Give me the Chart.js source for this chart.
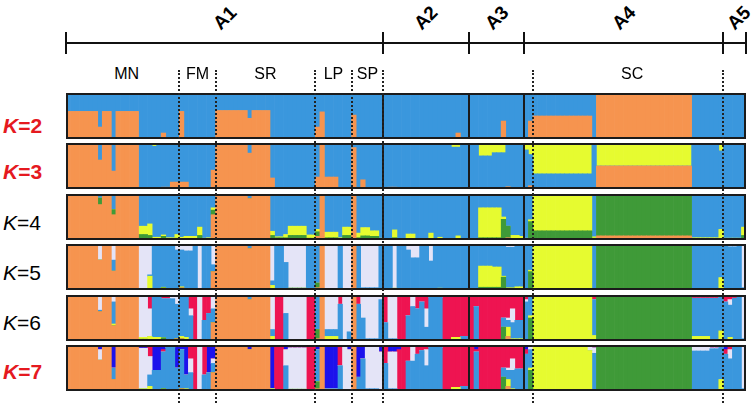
<!DOCTYPE html>
<html>
<head>
<meta charset="utf-8">
<script src="https://cdn.jsdelivr.net/npm/chart.js@4.4.1/dist/chart.umd.min.js"></script>
<style>
  body { margin: 0; background: #fff; font-family: "Liberation Sans", Arial, sans-serif; }
  #page { position: relative; width: 753px; height: 406px; overflow: hidden; background: #fff; }
  .panel { position: absolute; }
  .txt { position: absolute; white-space: nowrap; color: #000; }
  .vline { position: absolute; }
</style>
</head>
<body>
<div id="page"></div>
<script>
// cluster colours
const clusterColors = {
  orange: '#f6944f', blue: '#3a97dd', yellow: '#e6fb30', green: '#3f9a38',
  lavender: '#e4e4f7', red: '#ee1451', darkblue: '#1c12ec'
};

// regions (A1..A5) and populations, by number of individuals
const regionNames = ['A1', 'A2', 'A3', 'A4', 'A5'];
const regionSizes = [70, 19, 12, 44, 5];
const popNames = ['MN', 'FM', 'SR', 'LP', 'SP', 'SC'];
const popStart = [0, 25, 33, 55, 63, 103];
const popEnd = [25, 33, 55, 63, 70, 145];
const dottedAt = [25, 33, 55, 63, 70, 103, 145];

const kValues = [2, 3, 4, 5, 6, 7];
const kHighlight = [true, true, false, false, false, true];

// stacking order (bottom -> top) of the clusters for each K
const order2 = ['orange', 'blue'];
const order3 = ['orange', 'blue', 'yellow'];
const order4 = ['orange', 'green', 'yellow', 'blue'];
const order5 = ['orange', 'green', 'yellow', 'blue', 'lavender'];
const order6 = ['orange', 'green', 'yellow', 'blue', 'lavender', 'red'];
const order7 = ['orange', 'green', 'yellow', 'blue', 'lavender', 'red', 'darkblue'];

// membership runs: [number of individuals, % per cluster in the order above]
const k2Runs = [
  [7,60,40],[1,26,74],[2,60,40],[1,2,98],[5,60,40],[5,1,99],[1,13,87],[3,3,97],
  [1,60,40],[7,0,100],
  [7,62,38],[1,45,55],[4,62,38],[10,1,99],
  [1,26,74],[1,59,41],[6,0,100],
  [1,52,48],[6,0,100],
  [16,1,99],[1,13,87],[2,1,99],
  [7,0,100],[1,39,61],[1,2,98],[3,0,100],
  [1,0,100],[1,39,61],
  [13,50,50],[1,0,100],[21,100,0],[7,3,97],
  [5,0,100]
];
const k3Runs = [
  [7,95,2,3],[1,63,37,0],[2,95,5,0],[1,39,61,0],[5,97,3,0],[3,0,98,2],[1,0,93,7],[1,2,98,0],[1,4,91,5],[1,4,96,0],[2,15,85,0],
  [2,15,85,0],[5,0,100,0],[1,41,59,0],
  [7,98,2,0],[1,78,22,0],[4,98,2,0],[1,24,76,0],[2,0,100,0],[2,3,97,0],[5,1,99,0],
  [1,26,74,0],[1,96,4,0],[3,26,74,0],[3,0,100,0],
  [1,90,10,0],[1,0,100,0],[1,20,80,0],[4,1,99,0],
  [1,0,100,0],[2,4,96,0],[9,0,100,0],[1,0,96,4],[2,0,100,0],[2,2,89,9],[2,0,100,0],
  [2,0,100,0],[3,0,72,28],[3,3,76,21],[1,5,95,0],[1,2,98,0],[2,0,95,5],
  [1,0,85,15],[1,7,68,25],
  [13,0,33,67],[1,0,100,0],[21,50,0,50],[6,2,96,2],[1,2,81,17],
  [5,0,100,0]
];
const k4Runs = [
  [7,100,0,0,0],[1,77,14,0,9],[2,100,0,0,0],[1,55,11,0,34],[5,100,0,0,0],[2,0,12,18,70],[1,0,10,25,65],[2,0,3,3,94],[1,0,8,3,89],[2,0,3,2,95],[1,2,2,8,88],
  [1,0,3,3,94],[3,0,3,5,92],[1,0,10,18,72],[1,0,2,2,96],[1,0,3,2,95],[1,55,10,5,30],
  [7,100,0,0,0],[1,90,0,0,10],[4,100,0,0,0],[1,0,10,9,81],[2,0,5,2,93],[1,0,5,7,88],[4,0,10,20,70],[2,0,4,7,89],
  [1,8,10,5,77],[1,98,0,0,2],[3,0,5,12,83],[1,0,2,3,95],[2,0,10,18,72],
  [1,98,0,0,2],[1,0,5,10,85],[2,0,9,18,73],[2,0,8,12,80],[1,0,1,3,96],
  [2,0,1,2,97],[1,0,5,17,78],[2,0,1,1,98],[2,0,3,10,87],[3,0,1,1,98],[1,0,2,13,85],[1,0,0,1,99],[1,0,1,5,94],[3,0,0,1,99],[1,0,1,8,91],[2,0,2,1,97],
  [2,0,0,1,99],[5,0,5,65,30],[1,0,45,5,50],[1,5,25,0,70],[2,0,2,8,90],[1,0,1,7,92],
  [1,0,2,2,96],[1,2,38,4,56],
  [13,0,20,80,0],[1,2,2,3,93],[21,9,91,0,0],[6,1,2,2,95],[1,0,3,20,77],
  [4,0,1,3,96],[1,0,10,18,72]
];
const k5Runs = [
  [7,100,0,0,0,0],[1,65,0,0,0,35],[2,100,0,0,0,0],[1,41,0,0,24,35],[5,100,0,0,0,0],[2,0,3,0,0,97],[1,0,0,30,3,67],[2,0,1,1,93,5],[1,0,5,1,89,5],[2,0,1,1,93,5],[1,3,0,0,84,13],
  [1,5,0,2,80,13],[2,0,0,1,84,15],[1,0,0,0,100,0],[1,0,0,3,0,97],[2,0,0,0,100,0],[1,40,0,0,15,45],
  [7,100,0,0,0,0],[1,90,0,0,10,0],[4,100,0,0,0,0],[1,0,0,10,10,80],[2,0,1,1,98,0],[1,2,0,0,58,40],[4,2,2,0,0,96],[2,1,1,1,97,0],
  [1,5,10,0,85,0],[1,98,0,0,2,0],[3,0,0,2,1,97],[1,0,0,1,99,0],[2,0,0,1,2,97],
  [1,98,0,0,2,0],[1,0,1,1,98,0],[4,0,1,2,2,95],[1,0,0,1,99,0],
  [2,0,0,1,99,0],[1,0,1,3,0,96],[1,0,0,0,95,5],[1,0,0,0,100,0],[1,0,0,0,87,13],[2,0,0,0,70,30],[2,0,0,1,99,0],[1,0,0,0,63,37],[1,0,0,0,100,0],[1,0,0,4,96,0],[6,0,1,1,98,0],
  [2,0,0,1,99,0],[3,0,6,46,48,0],[2,0,6,44,50,0],[1,3,25,2,70,0],[2,3,1,1,88,7],[2,0,0,7,93,0],
  [1,0,0,0,95,5],[1,2,38,3,57,0],
  [13,0,0,100,0,0],[1,0,0,2,93,5],[21,0,100,0,0,0],[6,2,0,1,93,4],[1,0,0,27,70,3],
  [1,0,0,0,97,3],[2,0,0,0,94,6],[1,0,0,0,100,0],[1,0,0,0,5,95]
];
const k6Runs = [
  [7,100,0,0,0,0,0],[1,64,0,0,3,33,0],[2,100,0,0,0,0,0],[1,33,0,4,48,15,0],[5,100,0,0,0,0,0],[2,2,2,4,0,92,0],[1,0,0,10,0,60,30],[2,0,0,8,90,2,0],[1,0,7,0,85,0,8],[1,0,0,2,90,0,8],[1,0,0,0,92,8,0],[1,5,0,0,75,20,0],
  [1,5,0,5,90,0,0],[1,0,0,8,92,0,0],[1,0,0,0,55,15,30],[1,0,0,0,3,0,97],[1,0,0,0,0,97,3],[1,0,0,0,45,0,55],[1,0,0,0,60,0,40],[1,40,0,0,30,30,0],
  [7,100,0,0,0,0,0],[1,90,0,0,10,0,0],[4,100,0,0,0,0,0],[1,0,0,10,15,75,0],[2,0,0,0,1,2,97],[1,0,0,0,60,40,0],[4,0,0,3,0,95,2],[2,0,0,0,2,1,97],
  [1,5,20,0,75,0,0],[1,98,0,0,2,0,0],[3,0,0,10,15,75,0],[1,0,0,0,80,0,20],[1,0,0,0,3,95,2],[1,0,0,0,20,80,0],
  [1,98,0,0,2,0,0],[1,0,0,0,80,0,20],[1,0,0,0,50,50,0],[3,0,0,2,3,95,0],[1,0,0,0,90,10,0],
  [1,0,0,0,40,0,60],[2,0,0,2,3,90,5],[2,0,0,0,2,0,98],[1,0,0,0,55,0,45],[1,0,0,0,75,25,0],[1,0,0,0,70,0,30],[1,0,0,0,85,0,15],[1,0,0,0,30,40,30],[3,0,0,2,93,0,5],[2,0,0,0,0,0,100],[2,0,0,8,0,0,92],[2,0,0,0,10,0,90],
  [1,0,0,0,0,0,100],[1,0,0,0,75,0,25],[5,0,0,3,0,0,97],[1,0,30,0,20,0,50],[1,10,0,20,15,5,50],[1,0,0,5,35,30,30],[2,0,0,5,40,0,55],
  [1,0,0,0,85,5,10],[1,0,50,5,40,0,5],
  [13,0,0,100,0,0,0],[1,0,0,12,78,0,10],[21,0,100,0,0,0,0],[4,0,0,10,83,0,7],[2,0,0,3,90,0,7],[1,0,0,22,73,0,5],
  [1,0,0,0,85,0,15],[1,0,0,8,70,12,10],[1,0,0,0,93,0,7],[1,0,0,0,100,0,0],[1,0,0,0,5,95,0]
];
const k7Runs = [
  [7,100,0,0,0,0,0,0],[1,67,0,0,0,23,0,10],[2,100,0,0,0,0,0,0],[1,25,0,0,25,0,0,50],[5,100,0,0,0,0,0,0],[2,0,0,5,0,88,0,7],[1,0,0,10,25,40,25,0],[2,0,0,0,45,0,0,55],[1,0,5,0,80,0,5,10],[2,0,0,0,95,0,0,5],[1,0,0,0,50,0,0,50],
  [1,5,0,0,85,0,0,10],[1,0,0,5,30,0,0,65],[1,0,0,0,40,30,30,0],[1,0,0,0,3,0,97,0],[1,0,0,0,0,97,3,0],[1,0,0,0,35,0,65,0],[1,0,0,0,40,0,0,60],[1,40,0,0,20,10,0,30],
  [7,100,0,0,0,0,0,0],[1,90,0,0,0,0,0,10],[4,100,0,0,0,0,0,0],[1,0,0,5,0,0,0,95],[2,0,0,0,1,2,97,0],[1,0,0,0,55,35,0,10],[4,2,0,2,0,90,0,6],[2,0,0,0,2,1,97,0],
  [1,5,15,0,70,0,0,10],[1,98,0,0,2,0,0,0],[3,0,0,3,2,0,0,95],[1,0,0,0,55,0,45,0],[1,0,0,0,3,95,2,0],[1,0,0,0,0,90,0,10],
  [1,98,0,0,2,0,0,0],[1,0,0,0,30,0,0,70],[1,0,0,0,70,0,0,30],[3,0,0,2,3,95,0,0],[1,0,0,0,0,85,0,15],
  [1,0,0,0,60,0,35,5],[2,0,0,2,3,80,0,15],[1,0,0,0,0,0,90,10],[1,0,0,0,0,0,100,0],[1,0,0,0,65,0,35,0],[1,0,0,0,65,35,0,0],[1,0,0,0,80,0,20,0],[1,0,0,0,88,0,12,0],[1,0,0,0,55,35,10,0],[3,0,0,2,93,0,0,5],[2,0,0,0,0,0,100,0],[2,0,0,8,0,0,92,0],[2,0,0,0,10,0,90,0],
  [1,0,0,0,0,0,100,0],[1,0,0,0,85,0,5,10],[5,0,0,3,0,0,97,0],[1,0,30,0,20,0,50,0],[1,10,0,15,20,5,50,0],[1,0,0,5,40,25,30,0],[2,0,0,3,45,0,52,0],
  [1,0,0,0,80,0,10,10],[1,0,45,5,40,5,0,5],
  [12,0,0,100,0,0,0,0],[1,0,0,88,0,7,0,5],[1,0,0,0,82,12,0,6],[21,0,100,0,0,0,0,0],[4,0,0,2,85,8,0,5],[2,0,0,2,90,2,0,6],[1,0,0,25,70,0,0,5],
  [1,0,0,0,80,0,10,10],[1,0,0,0,70,20,5,5],[1,0,0,0,95,0,0,5],[1,0,0,0,100,0,0,0],[1,0,0,0,5,95,0,0]
];

const allRuns = [k2Runs, k3Runs, k4Runs, k5Runs, k6Runs, k7Runs];
const allOrders = [order2, order3, order4, order5, order6, order7];

const N = regionSizes.reduce((a, b) => a + b, 0);
const panelLeft = 66, panelWidth = 680, panelHeight = 46;
const panelTops = [93, 143, 194, 244, 295, 345];
const labelMid = [126, 172, 223, 273, 323, 372];

const page = document.getElementById('page');

function expand(runs) {
  const rows = [];
  runs.forEach(r => {
    for (let j = 0; j < r[0]; j++) rows.push(r.slice(1));
  });
  if (rows.length !== N) console.log('run length mismatch', rows.length);
  return rows;
}

function edge(x, b) {
  if (b <= 0) return x.left;
  if (b >= N) return x.right;
  return (x.getPixelForValue(b - 1) + x.getPixelForValue(b)) / 2;
}

// panel frame and solid region separators
const regionEnds = [];
regionSizes.reduce((s, v) => { regionEnds.push(s + v); return s + v; }, 0);

const framePlugin = {
  id: 'frame',
  afterDatasetsDraw(chart) {
    const { ctx, chartArea: a, scales: { x } } = chart;
    ctx.save();
    ctx.strokeStyle = '#1b1b1b';
    ctx.lineWidth = 2;
    regionEnds.slice(0, 3).forEach(b => {
      const px = Math.round(edge(x, b));
      ctx.beginPath();
      ctx.moveTo(px, a.top);
      ctx.lineTo(px, a.bottom);
      ctx.stroke();
    });
    ctx.strokeRect(a.left + 1, a.top + 1, a.width - 2, a.height - 2);
    ctx.restore();
  }
};

const labels = Array.from({ length: N }, (_, i) => i + 1);
const charts = [];

kValues.forEach((k, p) => {
  const wrap = document.createElement('div');
  wrap.className = 'panel';
  wrap.style.left = panelLeft + 'px';
  wrap.style.top = panelTops[p] + 'px';
  const cv = document.createElement('canvas');
  cv.width = panelWidth;
  cv.height = panelHeight;
  wrap.appendChild(cv);
  page.appendChild(wrap);

  const rows = expand(allRuns[p]);
  const datasets = allOrders[p].map((name, c) => ({
    label: name,
    data: rows.map(v => v[c] / v.reduce((a, b) => a + b, 0)),
    backgroundColor: clusterColors[name],
    borderWidth: 0,
    barPercentage: 1,
    categoryPercentage: 1
  }));

  charts.push(new Chart(cv, {
    type: 'bar',
    data: { labels, datasets },
    options: {
      responsive: false,
      animation: false,
      layout: { padding: 0 },
      plugins: { legend: { display: false }, tooltip: { enabled: false } },
      scales: {
        x: { stacked: true, display: false },
        y: { stacked: true, display: false, min: 0, max: 1 }
      }
    },
    plugins: [framePlugin]
  }));

  // K label
  const t = document.createElement('div');
  t.className = 'txt';
  t.style.left = '3px';
  t.style.top = (labelMid[p] - 12) + 'px';
  t.style.fontSize = '21px';
  t.style.lineHeight = '24px';
  if (kHighlight[p]) {
    t.style.color = '#e5191f';
    t.style.fontWeight = 'bold';
  }
  t.innerHTML = '<i>K</i>=' + k;
  page.appendChild(t);
});

const xs = charts[0].scales.x;
const px = b => panelLeft + edge(xs, b);

function addLine(left, top, w, h, css) {
  const d = document.createElement('div');
  d.className = 'vline';
  d.style.left = left + 'px';
  d.style.top = top + 'px';
  d.style.width = w + 'px';
  d.style.height = h + 'px';
  Object.assign(d.style, css);
  page.appendChild(d);
}

// dotted population separators
dottedAt.forEach(b => {
  addLine(Math.round(px(b)) - 1, 70, 0, 333, { borderLeft: '2px dotted #222' });
});

// region bracket
addLine(px(0), 42, px(N) - px(0), 0, { borderTop: '2px solid #111' });
[0].concat(regionEnds).forEach(b => {
  addLine(Math.round(px(b)) - 1, 32, 0, 22, { borderLeft: '2px solid #111' });
});

// region labels (rotated)
let start = 0;
regionNames.forEach((name, r) => {
  const cx = (px(start) + px(start + regionSizes[r])) / 2 + (r === 4 ? 4 : 0);
  start += regionSizes[r];
  const d = document.createElement('div');
  d.className = 'txt';
  d.style.width = '40px';
  d.style.textAlign = 'center';
  d.style.left = (cx - 20) + 'px';
  d.style.top = '6px';
  d.style.lineHeight = '24px';
  d.style.fontSize = '19px';
  d.style.fontWeight = 'bold';
  d.style.transform = 'rotate(-45deg)';
  d.textContent = name;
  page.appendChild(d);
});

// population labels
popNames.forEach((name, i) => {
  const cx = (px(popStart[i]) + px(popEnd[i])) / 2 + (i === 0 || i === 5 ? 4 : 0);
  const d = document.createElement('div');
  d.className = 'txt';
  d.style.width = '40px';
  d.style.textAlign = 'center';
  d.style.left = (cx - 20) + 'px';
  d.style.top = '64px';
  d.style.lineHeight = '20px';
  d.style.fontSize = '16px';
  d.textContent = name;
  page.appendChild(d);
});
</script>
</body>
</html>
